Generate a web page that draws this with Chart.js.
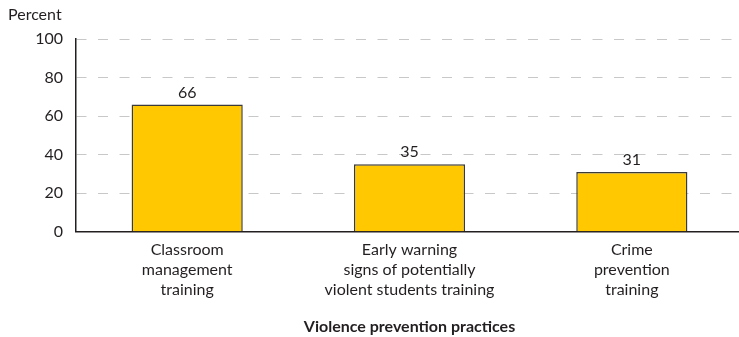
<!DOCTYPE html>
<html>
<head>
<meta charset="utf-8">
<script src="https://cdn.jsdelivr.net/npm/chart.js@4"></script>
<style>
  html, body { margin: 0; padding: 0; background: #fff; overflow: hidden; }
  #wrap { width: 743px; height: 337px; }
</style>
</head>
<body>
<div id="wrap"><canvas id="practices-chart" width="743" height="337"></canvas></div>
<script>
const categories = [
  ['Classroom', 'management', 'training'],
  ['Early warning', 'signs of potentially', 'violent students training'],
  ['Crime', 'prevention', 'training']
];
const percents = [66, 35, 31];
const yTicks = [0, 20, 40, 60, 80, 100];

const FONT = 'Lato, "Open Sans", sans-serif';
const INK = '#231f20';

// value above each bar + the "Percent" caption over the y axis
const labelPlugin = {
  id: 'labels',
  afterDatasetsDraw(chart) {
    const ctx = chart.ctx;
    const meta = chart.getDatasetMeta(0);
    ctx.save();
    ctx.fillStyle = INK;
    ctx.font = '16px ' + FONT;
    ctx.textAlign = 'center';
    ctx.textBaseline = 'middle';
    meta.data.forEach((bar, i) => {
      ctx.fillText(String(percents[i]), bar.x, bar.y - 12);
    });
    ctx.textAlign = 'left';
    ctx.fillText('Percent', 8, 15);
    ctx.restore();
  }
};

new Chart(document.getElementById('practices-chart'), {
  type: 'bar',
  data: {
    labels: categories,
    datasets: [{
      data: percents,
      backgroundColor: '#ffc800',
      borderColor: '#3a3a3a',
      borderWidth: 1.5,
      borderSkipped: 'bottom',
      barPercentage: 0.5,
      categoryPercentage: 1.0
    }]
  },
  options: {
    responsive: false,
    animation: false,
    layout: { padding: { top: 39, right: 0, bottom: 1, left: 0 } },
    plugins: {
      legend: { display: false },
      tooltip: { enabled: false }
    },
    scales: {
      x: {
        grid: { display: false, drawTicks: false },
        border: { color: INK, width: 1.5 },
        ticks: {
          color: INK,
          font: { family: FONT, size: 16, lineHeight: 1.25 },
          padding: 8,
          maxRotation: 0,
          autoSkip: false
        },
        title: {
          display: true,
          text: 'Violence prevention practices',
          color: INK,
          font: { family: FONT, size: 16, weight: 'bold', lineHeight: 1.2 },
          padding: { top: 9, bottom: 0 }
        }
      },
      y: {
        min: 0,
        max: 100,
        afterBuildTicks(axis) {
          axis.ticks = yTicks.map(v => ({ value: v }));
        },
        afterFit(axis) { axis.width = 76; },
        grid: {
          color: '#c8c8c8',
          lineWidth: 1,
          drawTicks: false
        },
        border: { color: INK, width: 1.5, dash: [10, 11.5], dashOffset: 0 },
        ticks: {
          color: INK,
          font: { family: FONT, size: 16 },
          padding: 13
        }
      }
    }
  },
  plugins: [labelPlugin]
});
</script>
</body>
</html>
